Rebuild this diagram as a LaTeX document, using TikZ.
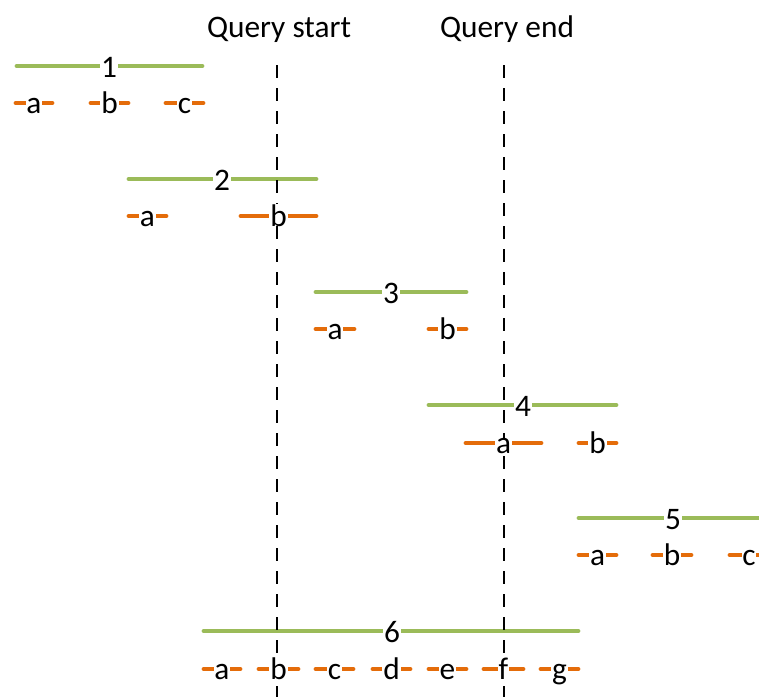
\documentclass[tikz,border=0pt]{standalone}
\usepackage{fontspec}
\setmainfont{Carlito}
\usetikzlibrary{calc}
\definecolor{bargreen}{HTML}{9BBB59}
\definecolor{barorange}{HTML}{E46C0A}
\tikzset{
  spanbar/.style={line width=3.6pt, line cap=round, draw=bargreen},
  partbar/.style={line width=3.6pt, line cap=round, draw=barorange},
  tag/.style={fill=white, inner xsep=0.6pt, inner ysep=0pt, anchor=base,
    font=\fontsize{23.5}{26}\selectfont, text=black},
  qtitle/.style={inner sep=0pt, anchor=base, font=\fontsize{23.5}{26}\selectfont},
  qline/.style={line width=1.4pt, dash pattern=on 9.75pt off 7.5pt},
}
\begin{document}
\begin{tikzpicture}[x=0.75pt, y=-0.75pt]
\useasboundingbox (0,0) rectangle (759,696);
\clip (0,0) rectangle (759,696);

% green ranges: name / left / right / y
\foreach \r/\xa/\xb/\y in {1/17/202/66, 2/129/316/179, 3/316/466/292,
                           4/429/616/405, 5/579/780/518, 6/204/578/631} {
  \coordinate (g\r s) at (\xa,\y);
  \coordinate (g\r e) at (\xb,\y);
  \draw[spanbar] (g\r s) -- (g\r e);
}

% orange parts: row / letter / left / right / y
\foreach \r/\k/\xa/\xb/\y in {
    1/a/16/52/103, 1/b/91/128/103, 1/c/166/203/103,
    2/a/129/166/216, 2/b/241/316/216,
    3/a/316/354/329, 3/b/429/466/329,
    4/a/466/541/443, 4/b/579/616/443,
    5/a/579/616/555, 5/b/653/691/555, 5/c/730/768/555,
    6/a/204/240/669, 6/b/259/298/669, 6/c/316/353/669, 6/d/373/410/669,
    6/e/429/466/669, 6/f/484/523/669, 6/g/541/578/669} {
  \coordinate (o\r\k s) at (\xa,\y);
  \coordinate (o\r\k e) at (\xb,\y);
  \draw[partbar] (o\r\k s) -- (o\r\k e);
}

% query boundaries
\node[qtitle] (qs) at (279,37) {Query start};
\node[qtitle] (qe) at (507,37) {Query end};
\coordinate (qs top) at (277,65);
\coordinate (qs bot) at (277,700);
\coordinate (qe top) at (504,65);
\coordinate (qe bot) at (504,700);
\draw[qline] (qs top) -- (qs bot);
\draw[qline] (qe top) -- (qe bot);

% range numbers
\foreach \r/\x in {1/109, 2/222, 3/391, 4/523, 5/673, 6/392} {
  \node[tag] (n\r) at ($(g\r s -| \x,0) + (0,11)$) {\r};
}

% part letters, centred on their parts
\foreach \r/\k in {1/a, 1/b, 1/c, 2/a, 2/b, 3/a, 3/b, 4/a, 4/b,
                   5/a, 5/b, 5/c, 6/a, 6/b, 6/c, 6/d, 6/e, 6/f, 6/g} {
  \node[tag] (t\r\k) at ($(o\r\k s)!0.5!(o\r\k e) + (0,10)$) {\k};
}
\end{tikzpicture}
\end{document}
